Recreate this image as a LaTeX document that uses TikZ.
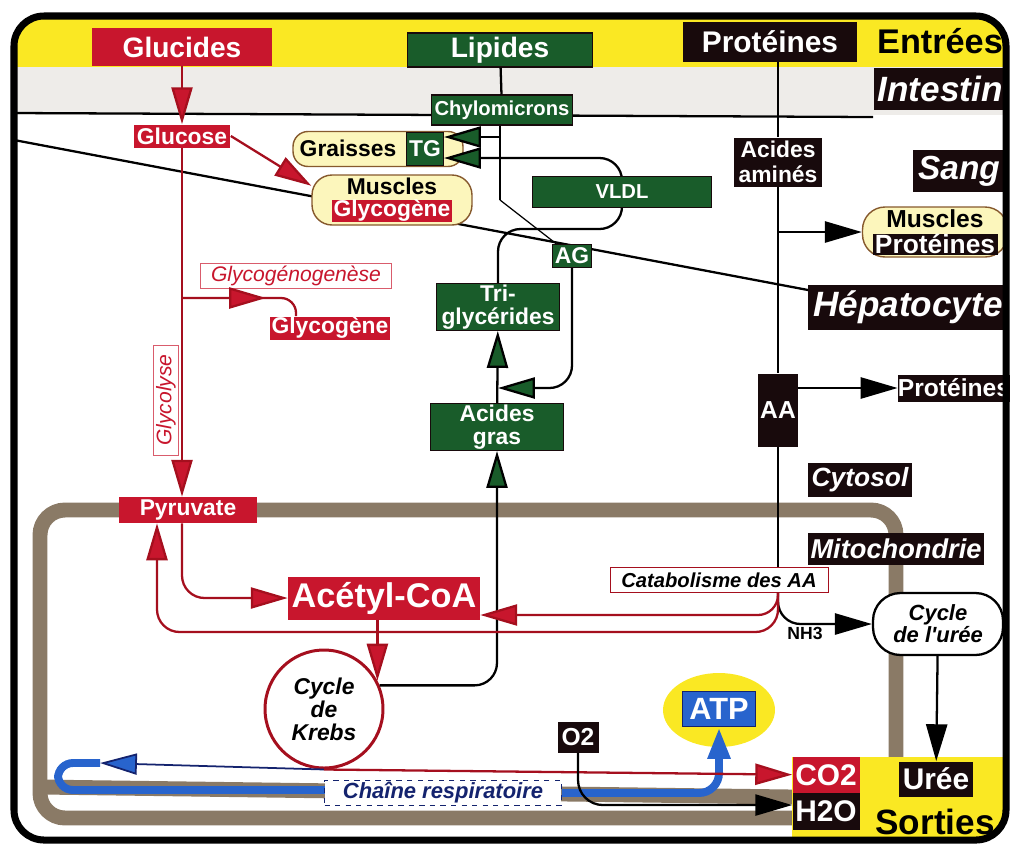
\documentclass[tikz,border=0pt]{standalone}
\usepackage{fontspec}
\setmainfont{Liberation Sans}
\usetikzlibrary{arrows.meta}
\usetikzlibrary{shapes.geometric}
\usetikzlibrary{positioning}
\tikzset{>={Triangle[length=21pt,width=12pt]}}
\definecolor{myred}{RGB}{200,22,45}
\definecolor{linered}{RGB}{165,15,30}
\definecolor{mygreen}{RGB}{25,92,42}
\definecolor{myblack}{RGB}{24,10,12}
\definecolor{myyellow}{RGB}{250,232,35}
\definecolor{paleyellow}{RGB}{252,246,188}
\definecolor{mygrey}{RGB}{238,236,233}
\definecolor{membr}{RGB}{138,122,102}
\definecolor{myblue}{RGB}{40,100,205}
\definecolor{darkblue}{RGB}{20,35,110}
\newcommand{\fsz}[1]{\fontsize{#1}{#1}\selectfont}

\begin{document}
\begin{tikzpicture}[x=0.02cm,y=-0.02cm,
  box/.style={inner sep=0pt,align=center},
  rbox/.style={box,fill=myred,text=white},
  gbox/.style={box,fill=mygreen,text=white,draw=myblack,line width=0.6pt},
  kbox/.style={box,fill=myblack,text=white},
  pale/.style={draw=brown!70!black,fill=paleyellow,line width=0.8pt},
  tag/.style={box,fill=white,draw=linered,line width=0.5pt},
  ln/.style={line width=1.3pt},
  redln/.style={ln,draw=linered},
  rarr/.style={redln,-{Triangle[length=21pt,width=12pt,fill=myred]}},
  garr/.style={ln,-{Triangle[length=21pt,width=12pt,fill=mygreen]}},
  barr/.style={line width=4.5pt,draw=myblue,-{Triangle[length=18pt,width=12pt]}},
  membrane/.style={draw=membr,line width=8.5pt}]
\useasboundingbox (0,0) rectangle (1010,860);

\begin{scope}
  \clip[rounded corners=0.6cm] (14,16) rectangle (1006,840);
  \fill[myyellow] (14,16) rectangle (1006,67);
  \fill[mygrey] (14,67) rectangle (1006,115);
\end{scope}
\draw[membrane,rounded corners=0.5cm] (40,510) rectangle (896,818);
\draw[membrane] (40,787) -- (792,797);
\begin{scope}
  \clip[rounded corners=0.6cm] (14,16) rectangle (1006,840);
  \fill[myyellow] (792,757) rectangle (1006,840);
\end{scope}
\draw[line width=1.3pt] (14,113) -- (873,117);
\draw[line width=1.3pt] (14,140) -- (808,290);

\node[rbox,minimum width=3.6cm,minimum height=0.76cm,font=\bfseries\fsz{16}] (gluc) at (182,47) {Glucides};
\node[gbox,minimum width=3.7cm,minimum height=0.68cm,font=\bfseries\fsz{16}] (lip) at (500,50) {Lipides};
\node[kbox,minimum width=3.5cm,minimum height=0.8cm,font=\bfseries\fsz{17}] (prot) at (770,42) {Protéines};
\node[font=\bfseries\fsz{19.5}] (entr) at (940,41) {Entrées};
\node[kbox,minimum width=2.66cm,minimum height=0.84cm,font=\bfseries\itshape\fsz{20}] (intest) at (940,89) {Intestin};
\node[kbox,minimum width=1.84cm,minimum height=0.84cm,font=\bfseries\itshape\fsz{19}] (sang) at (959,171) {Sang};
\node[kbox,minimum width=4.0cm,minimum height=0.9cm,font=\bfseries\itshape\fsz{20}] (hepa) at (908,307) {Hépatocyte};
\node[kbox,minimum width=2.24cm,minimum height=0.54cm,font=\bfseries\fsz{14}] (protH) at (954,388) {Protéines};
\node[kbox,minimum width=2.08cm,minimum height=0.68cm,font=\bfseries\itshape\fsz{15}] (cyto) at (860,480) {Cytosol};
\node[kbox,minimum width=3.54cm,minimum height=0.64cm,font=\bfseries\itshape\fsz{15.5}] (mito) at (896,549) {Mitochondrie};

\node[pale,rounded corners=0.45cm,minimum width=2.9cm,minimum height=1.0cm] (musP) at (935,232) {};
\node[font=\bfseries\fsz{14}] (musPt) at (935,219) {Muscles};
\node[kbox,minimum width=2.5cm,minimum height=0.42cm,font=\bfseries\fsz{15}] (protM) at (935,244) {Protéines};

\node[rbox,minimum width=1.94cm,minimum height=0.46cm,font=\bfseries\fsz{13}] (glucose) at (182,136) {Glucose};
\node[pale,rounded corners=0.4cm,minimum width=3.2cm,minimum height=1.0cm] (musG) at (392,200) {};
\node[font=\bfseries\fsz{13}] (musGt) at (392,186) {Muscles};
\node[rbox,minimum width=2.42cm,minimum height=0.4cm,font=\bfseries\fsz{13}] (glycoM) at (392,211) {Glycogène};
\node[pale,rounded corners=0.3cm,minimum width=3.4cm,minimum height=0.7cm] (fat) at (378,149) {};
\node[font=\bfseries\fsz{13}] (fatt) at (348,148) {Graisses};
\node[gbox,minimum width=0.74cm,minimum height=0.66cm,font=\bfseries\fsz{13}] (tg) at (425,149) {TG};
\node[gbox,minimum width=2.82cm,minimum height=0.6cm,font=\bfseries\fsz{11.5}] (chylo) at (502,110) {Chylomicrons};
\node[gbox,minimum width=0.78cm,minimum height=0.46cm,font=\bfseries\fsz{13}] (ag) at (572,256) {AG};
\node[gbox,minimum width=2.46cm,minimum height=0.94cm,font=\bfseries\fsz{13}] (tri) at (498,307) {Tri-\\glycérides};
\node[gbox,minimum width=2.66cm,minimum height=0.94cm,font=\bfseries\fsz{13}] (agras) at (497,427) {Acides\\gras};
\node[kbox,minimum width=1.76cm,minimum height=0.98cm,font=\bfseries\fontsize{13}{14}\selectfont] (aa1) at (778,162) {Acides\\aminés};
\node[kbox,minimum width=0.8cm,minimum height=1.46cm,font=\bfseries\fsz{14}] (aa) at (778,410) {AA};

\node[tag,draw=myred!70,minimum width=3.82cm,minimum height=0.5cm,text=myred,font=\itshape\fsz{12}] (genese) at (296,276) {Glycogénogenèse};
\node[rbox,minimum width=2.42cm,minimum height=0.46cm,font=\bfseries\fsz{13}] (glycoH) at (330,328) {Glycogène};
\node[tag,draw=myred!70,rotate=90,minimum width=2.2cm,minimum height=0.5cm,text=myred,font=\itshape\fsz{12}] (glycol) at (166,400) {Glycolyse};
\node[rbox,minimum width=2.78cm,minimum height=0.52cm,font=\bfseries\fsz{13}] (pyr) at (188,510) {Pyruvate};
\node[rbox,minimum width=3.84cm,minimum height=0.86cm,font=\bfseries\fsz{19.5}] (acetyl) at (384,598) {Acétyl-CoA};
\node[circle,draw=linered,line width=1.7pt,fill=white,minimum size=2.36cm,inner sep=0pt,align=center,font=\bfseries\itshape\fsz{13}] (krebs) at (324,709) {Cycle\\de\\Krebs};
\node[tag,minimum width=4.36cm,minimum height=0.5cm,font=\bfseries\itshape\fsz{11.5}] (catab) at (719,580) {Catabolisme des AA};
\node[box,draw,line width=1.3pt,fill=white,rounded corners=0.55cm,minimum width=2.6cm,minimum height=1.24cm,font=\bfseries\itshape\fontsize{12.5}{12.5}\selectfont] (uree) at (938,624) {Cycle\\de l\textquotesingle urée};
\node[font=\bfseries\fsz{10}] (nh3) at (805,633) {NH3};
\node[ellipse,fill=myyellow,minimum width=2.24cm,minimum height=1.48cm,inner sep=0pt] (atpE) at (719,710) {};
\node[box,fill=myblue,draw=darkblue,line width=0.8pt,text=white,minimum width=1.46cm,minimum height=0.7cm,font=\bfseries\fsz{17.5}] (atp) at (719,709) {ATP};
\node[kbox,minimum width=0.82cm,minimum height=0.62cm,font=\bfseries\fsz{14}] (o2) at (578,737) {O2};
\node[rbox,minimum width=1.34cm,minimum height=0.72cm,font=\bfseries\fsz{17}] (co2) at (826,775) {CO2};
\node[kbox,minimum width=1.34cm,minimum height=0.74cm,font=\bfseries\fsz{17}] (h2o) at (826,811) {H2O};
\node[kbox,minimum width=1.48cm,minimum height=0.7cm,font=\bfseries\fsz{17}] (ureeO) at (936,779) {Urée};
\node[font=\bfseries\fsz{20}] (sort) at (935,822) {Sorties};

\draw[rarr] (gluc) -- (glucose);
\draw[rarr] (glucose) -- (glucose.south |- pyr.north);
\coordinate (b1) at (182,298);
\coordinate (g1) at (296,316);
\coordinate (g2) at (266,298);
\draw[redln,rounded corners=0.3cm] (b1) -| (g1);
\draw[rarr] (b1) -- (g2);
\draw[rarr] (glucose.east) -- (musG.170);

\coordinate (l1) at (500,200);
\draw[ln] (lip) -- (chylo);
\draw[ln] (chylo.south -| lip) -- (l1);
\draw[line width=0.7pt] (l1) -- (ag);
\coordinate (c1) at (500,137);
\draw[garr] (c1) -- (tg.east |- c1);
\coordinate (v1) at (622,229);
\coordinate (v2) at (622,158);
\draw[garr,rounded corners=0.45cm] (tri.north) |- (v1) -- (v2) -- (tg.east |- v2);
\node[gbox,minimum width=3.58cm,minimum height=0.62cm,font=\bfseries\fsz{11.5}] (vldl) at (622,192) {VLDL};
\coordinate (a1) at (498,388);
\draw[garr,rounded corners=0.45cm] (ag) |- (a1);
\draw[garr] (agras) -- (tri);
\draw[garr,rounded corners=0.45cm] (krebs.23) -| (agras);

\draw[ln] (prot.south -| aa1) -- (aa1);
\draw[ln] (aa1) -- (aa);
\draw[ln] (aa) -- (aa |- catab.north);
\draw[ln,->] (aa1 |- musP) -- (musP);
\draw[ln,->] (aa.east |- protH) -- (protH);
\coordinate (cs) at (catab.south -| aa);
\draw[ln,->,rounded corners=0.45cm] (cs) |- (uree);
\draw[rarr,rounded corners=0.4cm] (cs) |- (acetyl.-10);
\coordinate (p1) at (157,632);
\draw[rarr,rounded corners=0.45cm] (cs) |- (p1) -- (pyr.south -| p1);
\draw[rarr,rounded corners=0.45cm] (pyr.south -| glucose) |- (acetyl);
\draw[rarr] (acetyl.south -| krebs.28) -- (krebs.28);

\coordinate (h1) at (100,763);
\draw[line width=1pt,darkblue,-{Triangle[length=21pt,width=12pt,fill=myblue]}] (krebs.south) -- (h1);
\draw[line width=4.5pt,myblue,rounded corners=0.3cm] (h1) -- (58,763) -- (58,790) -- (443,790);
\node[box,fill=white,draw=darkblue,dashed,line width=0.5pt,text=darkblue,minimum width=4.74cm,minimum height=0.5cm,font=\bfseries\itshape\fsz{12.5}] (chaine) at (443,793) {Chaîne respiratoire};
\draw[barr,rounded corners=0.4cm] (chaine.east) -| (atp);
\draw[rarr] (krebs.south) -- (co2);
\draw[ln,->,rounded corners=0.5cm] (o2) |- (h2o.170);
\draw[ln,->] (uree) -- (ureeO);

\draw[line width=4pt,rounded corners=0.6cm] (14,16) rectangle (1006,840);
\end{tikzpicture}
\end{document}
